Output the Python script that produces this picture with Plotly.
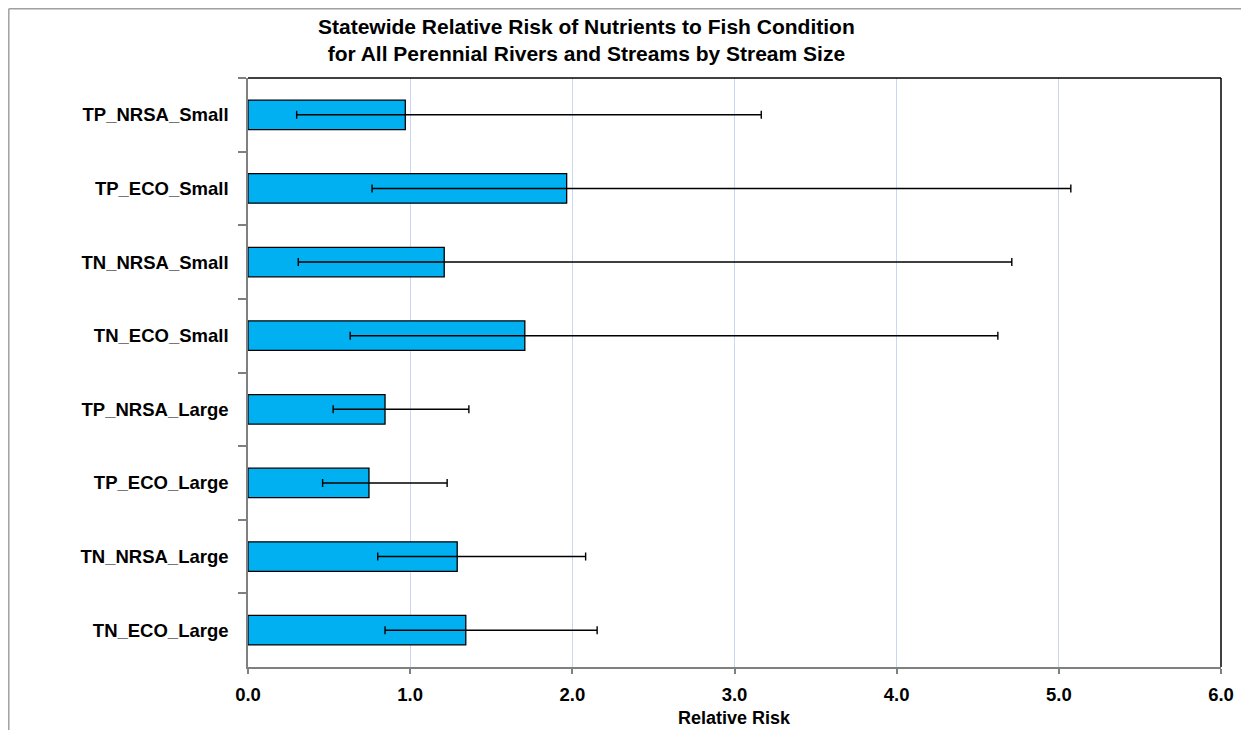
import plotly.graph_objects as go

categories = ["TP_NRSA_Small", "TP_ECO_Small", "TN_NRSA_Small", "TN_ECO_Small",
              "TP_NRSA_Large", "TP_ECO_Large", "TN_NRSA_Large", "TN_ECO_Large"]
relative_risk = [0.97, 1.965, 1.21, 1.707, 0.845, 0.746, 1.29, 1.343]
lower_ci = [0.30, 0.765, 0.31, 0.63, 0.525, 0.46, 0.80, 0.845]
upper_ci = [3.165, 5.074, 4.71, 4.624, 1.362, 1.228, 2.082, 2.153]
x_ticks = [0, 1, 2, 3, 4, 5, 6]
x_tick_labels = ["0.0", "1.0", "2.0", "3.0", "4.0", "5.0", "6.0"]

plus = [u - v for u, v in zip(upper_ci, relative_risk)]
minus = [v - l for v, l in zip(relative_risk, lower_ci)]

FONT = "Liberation Sans, Arial, sans-serif"

fig = go.Figure()
fig.add_trace(go.Bar(
    y=categories, x=relative_risk, orientation="h",
    width=0.4,
    marker=dict(color="#00B0F0", line=dict(color="#000000", width=1.3)),
    error_x=dict(type="data", symmetric=False, array=plus, arrayminus=minus,
                 color="#000000", thickness=1.4, width=4),
    showlegend=False,
))

W, H = 1249, 730
# figure origin sits at screen (8, 8) because of the page margin
SL, SR, ST, SB = 248, 1221, 78, 667   # plot area in screen pixels
L, T = SL - 8, ST - 8
R = W - L - (SR - SL)
B = H - T - (SB - ST)
pw, ph = SR - SL, SB - ST

def px_x(x):
    return (x - SL) / pw

def px_y(y):
    return (SB - y) / ph

fig.update_layout(
    width=W, height=H,
    margin=dict(l=L, r=R, t=T, b=B, autoexpand=False),
    paper_bgcolor="white", plot_bgcolor="white",
    font=dict(family=FONT, color="#000000"),
    xaxis=dict(
        range=[0, 6], tickvals=x_ticks, ticktext=x_tick_labels,
        automargin=False,
        showgrid=True, gridcolor="#c9d7f0", gridwidth=1,
        showline=True, linecolor="#808080", linewidth=1.5,
        ticks="outside", ticklen=5, tickcolor="#808080", tickwidth=1.5,
        tickfont=dict(size=18.5, family=FONT, weight="bold"),
        ticklabelstandoff=5,
        zeroline=False,
    ),
    yaxis=dict(
        categoryorder="array", categoryarray=categories, autorange="reversed",
        automargin=False,
        showgrid=False,
        showline=True, linecolor="#808080", linewidth=1.5,
        ticks="outside", ticklen=8, tickcolor="#808080", tickwidth=1.5,
        tickson="boundaries",
        tickfont=dict(size=18.5, family=FONT, weight="bold"),
        ticklabelstandoff=14,
        zeroline=False,
    ),
    annotations=[
        dict(
            text="<b>Statewide Relative Risk of Nutrients to Fish Condition<br>for All Perennial Rivers and Streams by Stream Size</b>",
            xref="paper", yref="paper", x=px_x(586), y=px_y(40),
            xanchor="center", yanchor="middle", showarrow=False,
            font=dict(size=21, family=FONT, color="#000000"),
        ),
        dict(
            text="<b>Relative Risk</b>",
            xref="paper", yref="paper", x=px_x(734), y=px_y(718),
            xanchor="center", yanchor="middle", showarrow=False,
            font=dict(size=18, family=FONT, color="#000000"),
        ),
    ],
    shapes=[
        dict(type="line", xref="paper", yref="paper", x0=0, x1=1, y0=1, y1=1,
             line=dict(color="#000000", width=1.5)),
        dict(type="line", xref="paper", yref="paper", x0=1, x1=1, y0=0, y1=1,
             line=dict(color="#000000", width=1.5)),
        dict(type="line", xref="paper", yref="paper", x0=px_x(8.8), x1=px_x(1260), y0=px_y(8.8), y1=px_y(8.8),
             line=dict(color="#a0a0a0", width=1.5)),
        dict(type="line", xref="paper", yref="paper", x0=px_x(8.8), x1=px_x(8.8), y0=px_y(8.8), y1=px_y(740),
             line=dict(color="#a0a0a0", width=1.5)),
    ],
)

fig.write_html("out.html")
